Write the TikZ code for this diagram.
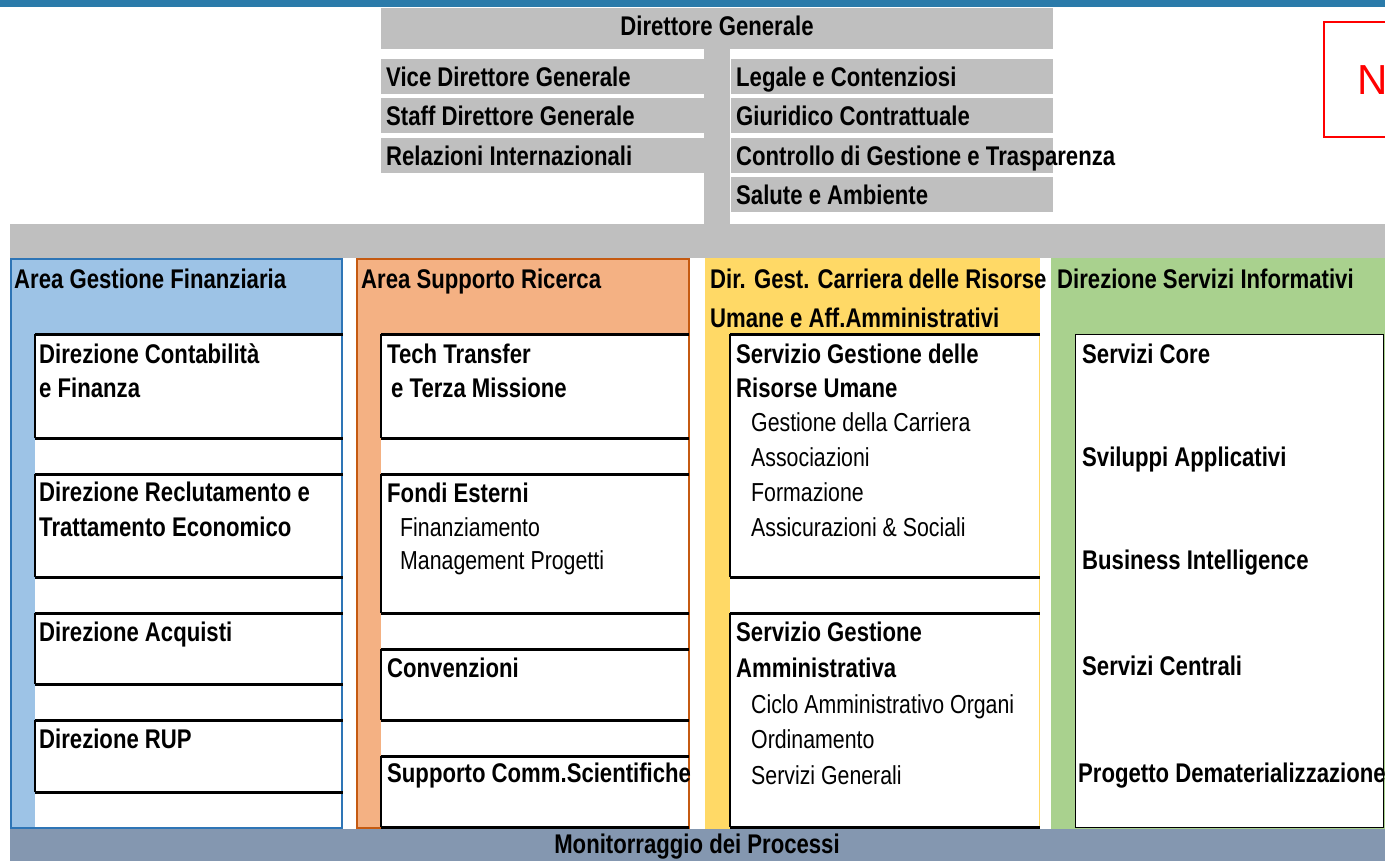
\documentclass[tikz,border=0pt]{standalone}
\usepackage{fontspec}
\setmainfont{Liberation Sans}[FakeStretch=0.82]
\newfontfamily\plainsans{Liberation Sans}
\definecolor{topc}{HTML}{2B7BAA}
\definecolor{barc}{HTML}{BFBFBF}
\definecolor{bluef}{HTML}{9DC3E6}
\definecolor{blued}{HTML}{2E75B6}
\definecolor{orangef}{HTML}{F4B183}
\definecolor{oranged}{HTML}{C55A11}
\definecolor{yellowf}{HTML}{FFD966}
\definecolor{greenf}{HTML}{A9D18E}
\definecolor{monc}{HTML}{8497B0}

\begin{document}
\begin{tikzpicture}[x=1pt,y=-1pt]
        \tikzstyle{box}=[anchor=north west, inner sep=0pt, outer sep=0pt]
        \tikzstyle{gbar}=[box, fill=barc]
        \tikzstyle{stem}=[barc, line width=26pt]
        \tikzstyle{bt}=[anchor=base west, inner sep=0pt, font=\bfseries\fontsize{27}{32}\selectfont]
        \tikzstyle{st}=[anchor=base west, inner sep=0pt, font=\fontsize{26}{32}\selectfont]
        \useasboundingbox (0,0) rectangle (1385,861);

        \node[box, fill=topc, minimum width=1385pt, minimum height=7pt] (top) at (0,0) {};

        % direzione generale
        \node[gbar, minimum width=672pt, minimum height=41pt] (dg) at (381,8) {};
        \node[bt, anchor=base] (dgt) at (717,36) {Direttore Generale};
        \node[gbar, minimum width=1375pt, minimum height=34pt] (band) at (10,224) {};
        \draw[stem] (dg.south) -- (dg.south |- band.north);

        \node[gbar, minimum width=325pt, minimum height=35pt] (vdg) at (381,59) {};
        \node[gbar, minimum width=325pt, minimum height=35pt] (sdg) at (381,98) {};
        \node[gbar, minimum width=325pt, minimum height=35pt] (ri) at (381,138) {};
        \node[gbar, minimum width=322pt, minimum height=35pt] (lc) at (731,59) {};
        \node[gbar, minimum width=322pt, minimum height=35pt] (gc) at (731,98) {};
        \node[gbar, minimum width=322pt, minimum height=35pt] (cg) at (731,138) {};
        \node[gbar, minimum width=322pt, minimum height=35pt] (sa) at (731,177) {};
        \node[bt] (vdgt) at (386,87) {Vice Direttore Generale};
        \node[bt] (sdgt) at (386,126) {Staff Direttore Generale};
        \node[bt] (rit) at (386,166) {Relazioni Internazionali};
        \node[bt] (lct) at (736,87) {Legale e Contenziosi};
        \node[bt] (gct) at (736,126) {Giuridico Contrattuale};
        \node[bt] (cgt) at (736,166) {Controllo di Gestione e Trasparenza};
        \node[bt] (sat) at (736,205) {Salute e Ambiente};

        \node[box, draw=red, line width=2pt, minimum width=100pt, minimum height=115pt] (nb) at (1324,22) {};
        \node[anchor=base west, inner sep=0pt, red, font=\plainsans\fontsize{42}{48}\selectfont] (nt) at (1357,95) {N};

        % aree
        \node[box, fill=bluef, draw=blued, line width=2pt, minimum width=331pt, minimum height=569pt] (agf) at (11,259) {};
        \node[box, fill=orangef, draw=oranged, line width=2pt, minimum width=332pt, minimum height=569pt] (asr) at (357,259) {};
        \node[box, fill=yellowf, minimum width=335pt, minimum height=571pt] (dgc) at (705,258) {};
        \node[box, fill=greenf, minimum width=334pt, minimum height=571pt] (dsi) at (1051,258) {};
        \node[box, fill=white, minimum width=306pt, minimum height=493pt] (w1) at (35,334) {};
        \node[box, fill=white, minimum width=307pt, minimum height=493pt] (w2) at (381,334) {};
        \node[box, fill=white, minimum width=309pt, minimum height=493pt] (w3) at (730,334) {};
        \node[box, fill=white, draw=black, line width=1pt, minimum width=308pt, minimum height=493pt] (w4) at (1075,334) {};
        \node[box, fill=monc, minimum width=1375pt, minimum height=32pt] (mon) at (10,829) {};

        \node[bt] (agft) at (14,289) {Area Gestione Finanziaria};
        \node[bt] (asrt) at (361,289) {Area Supporto Ricerca};
        \node[bt] (dgct) at (710,289) {Dir. Gest. Carriera delle Risorse};
        \node[bt] (dgct2) at (710,327) {Umane e Aff.Amministrativi};
        \node[bt] (dsit) at (1057,289) {Direzione Servizi Informativi};
        \node[bt, anchor=base] (mont) at (697,853) {Monitorraggio dei Processi};

        % uffici
        \node[box, minimum width=308pt, minimum height=104pt] (dcf) at (35,334) {};
        \node[box, minimum width=308pt, minimum height=103pt] (drt) at (35,474) {};
        \node[box, minimum width=308pt, minimum height=71pt] (dac) at (35,613) {};
        \node[box, minimum width=308pt, minimum height=72pt] (rup) at (35,720) {};
        \node[box, minimum width=308pt, minimum height=104pt] (ttm) at (381,334) {};
        \node[box, minimum width=308pt, minimum height=139pt] (fe) at (381,474) {};
        \node[box, minimum width=308pt, minimum height=71pt] (conv) at (381,649) {};
        \node[box, minimum width=308pt, minimum height=71pt] (scs) at (381,756) {};
        \node[box, minimum width=310pt, minimum height=243pt] (sgru) at (730,334) {};
        \node[box, minimum width=310pt, minimum height=214pt] (sga) at (730,613) {};
        \foreach \b in {dcf,drt,dac,rup,ttm,fe,conv,scs,sgru,sga} {
            \draw[line width=1.5pt] (\b.north west) -- (\b.south west);
            \draw[line width=3pt] (\b.north west) -- (\b.north east);
            \draw[line width=3pt] (\b.south west) -- (\b.south east);
        }

        \node[bt] (dcft) at (39,363) {Direzione Contabilità};
        \node[bt] (dcft2) at (39,397) {e Finanza};
        \node[bt] (drtt) at (39,501) {Direzione Reclutamento e};
        \node[bt] (drtt2) at (39,536) {Trattamento Economico};
        \node[bt] (dact) at (39,641) {Direzione Acquisti};
        \node[bt] (rupt) at (39,748) {Direzione RUP};

        \node[bt] (ttmt) at (387,363) {Tech Transfer};
        \node[bt] (ttmt2) at (391,397) {e Terza Missione};
        \node[bt] (fet) at (387,502) {Fondi Esterni};
        \node[st] (fet2) at (400,536) {Finanziamento};
        \node[st] (fet3) at (400,569) {Management Progetti};
        \node[bt] (convt) at (387,677) {Convenzioni};
        \node[bt] (scst) at (387,782) {Supporto Comm.Scientifiche};

        \node[bt] (sgrut) at (736,363) {Servizio Gestione delle};
        \node[bt] (sgrut2) at (736,397) {Risorse Umane};
        \node[st] (sgrut3) at (751,431) {Gestione della Carriera};
        \node[st] (sgrut4) at (751,466) {Associazioni};
        \node[st] (sgrut5) at (751,501) {Formazione};
        \node[st] (sgrut6) at (751,536) {Assicurazioni \& Sociali};
        \node[bt] (sgat) at (736,641) {Servizio Gestione};
        \node[bt] (sgat2) at (736,677) {Amministrativa};
        \node[st] (sgat3) at (751,713) {Ciclo Amministrativo Organi};
        \node[st] (sgat4) at (751,748) {Ordinamento};
        \node[st] (sgat5) at (751,784) {Servizi Generali};

        \node[bt] (sct) at (1082,363) {Servizi Core};
        \node[bt] (sapt) at (1082,466) {Sviluppi Applicativi};
        \node[bt] (bit) at (1082,569) {Business Intelligence};
        \node[bt] (scet) at (1082,675) {Servizi Centrali};
        \node[bt] (pdt) at (1078,782) {Progetto Dematerializzazione};
    \end{tikzpicture}
\end{document}
